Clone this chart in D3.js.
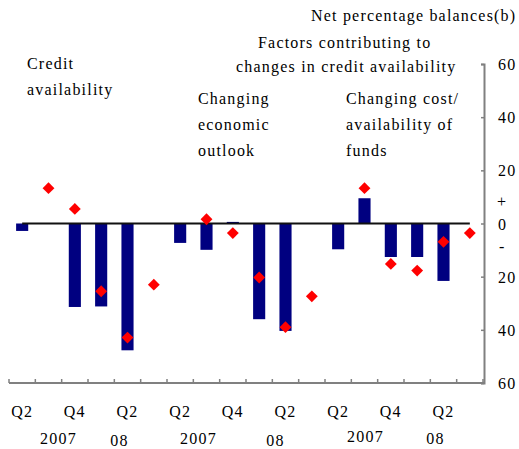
<!DOCTYPE html>
<html>
<head>
<meta charset="utf-8">
<script src="https://cdn.jsdelivr.net/npm/d3@7"></script>
<style>
  html, body { margin: 0; padding: 0; background: #fff; }
</style>
</head>
<body>
<div id="app"></div>
<script>
// quarters in each panel: Q2 2007 .. Q3 2008
const quarters = ['Q2 07', 'Q3 07', 'Q4 07', 'Q1 08', 'Q2 08', 'Q3 08']
const panels = ['Credit availability', 'Changing economic outlook', 'Changing cost/availability of funds']
// bars: past three months, diamonds: expected next three months
const creditBars = [-2.8, null, -31.4, -31.2, -47.7, null]
const creditExpected = [null, 13.3, 5.5, -25.5, -42.9, -23]
const outlookBars = [-7.3, -9.9, 0.6, -36, -40.4, null]
const outlookExpected = [null, 1.6, -3.6, -20.3, -39, -27.4]
const fundsBars = [-9.7, 9.5, -12.6, -12.6, -21.6, null]
const fundsExpected = [null, 13.3, -15.2, -17.7, -6.9, -3.6]
const yTicks = [-60, -40, -20, 0, 20, 40, 60]
const quarterLabels = ['Q2', '', 'Q4', '', 'Q2', '']
const yearLabels = ['2007', '08']

const width = 519
const height = 449
const plot = { left: 9, right: 483, top: 64, bottom: 383 }

const svg = d3.select('#app')
  .append('svg')
  .attr('width', width)
  .attr('height', height)
  .style('font-family', '"Liberation Serif", "Times New Roman", serif')
  .style('font-size', '16px')
  .style('letter-spacing', '1.2px')

const barSets = [creditBars, outlookBars, fundsBars]
const expSets = [creditExpected, outlookExpected, fundsExpected]
const rows = []
panels.forEach((p, pi) => {
  quarters.forEach((q, qi) => {
    rows.push({ key: pi + '|' + q, panel: pi, qi, bar: barSets[pi][qi], exp: expSets[pi][qi] })
  })
})

const xScale = d3.scaleBand()
  .domain(rows.map(d => d.key))
  .range([plot.left, plot.right])
const yScale = d3.scaleLinear()
  .domain([-60, 60])
  .range([plot.bottom, plot.top])
const barW = xScale.bandwidth() * 0.46
const cx = key => xScale(key) + xScale.bandwidth() / 2

// bars
svg.append('g')
  .selectAll('rect')
  .data(rows.filter(d => d.bar !== null))
  .enter()
  .append('rect')
  .attr('x', d => cx(d.key) - barW / 2)
  .attr('width', barW)
  .attr('y', d => yScale(Math.max(0, d.bar)))
  .attr('height', d => Math.abs(yScale(d.bar) - yScale(0)))
  .attr('fill', '#000080')

// zero line, from first to last category centre
svg.append('line')
  .attr('x1', cx(rows[0].key))
  .attr('x2', cx(rows[rows.length - 1].key))
  .attr('y1', yScale(0))
  .attr('y2', yScale(0))
  .attr('stroke', '#111')
  .attr('stroke-width', 2)

// diamonds
svg.append('g')
  .selectAll('path')
  .data(rows.filter(d => d.exp !== null))
  .enter()
  .append('path')
  .attr('d', d3.symbol(d3.symbolSquare, 70))
  .attr('transform', d => `translate(${cx(d.key)},${yScale(d.exp)}) rotate(45)`)
  .attr('fill', '#ff0000')

// x axis: ticks between categories
const xAxisG = svg.append('g')
xAxisG.append('line')
  .attr('x1', plot.left).attr('x2', plot.right + 1)
  .attr('y1', plot.bottom).attr('y2', plot.bottom)
  .attr('stroke', '#808080').attr('stroke-width', 2)
const bounds = rows.map(d => xScale(d.key)).concat([plot.right])
xAxisG.selectAll('.tk')
  .data(bounds)
  .enter()
  .append('line')
  .attr('x1', d => d).attr('x2', d => d)
  .attr('y1', plot.bottom).attr('y2', plot.bottom - 4)
  .attr('stroke', '#808080').attr('stroke-width', 1.5)
xAxisG.selectAll('.ql')
  .data(rows.filter(d => quarterLabels[d.qi]))
  .enter()
  .append('text')
  .attr('x', d => cx(d.key))
  .attr('y', 417)
  .attr('text-anchor', 'middle')
  .text(d => quarterLabels[d.qi])
// year labels, nudged like the original
const yearNudge = [[10, -8], [-8, -10], [1, -8]]
panels.forEach((p, pi) => {
  const k1 = pi + '|' + quarters[1]
  const k4 = pi + '|' + quarters[4]
  xAxisG.append('text')
    .attr('x', cx(k1) + yearNudge[pi][0])
    .attr('y', pi === 2 ? 442 : 444)
    .attr('text-anchor', 'middle')
    .text(yearLabels[0])
  xAxisG.append('text')
    .attr('x', cx(k4) + yearNudge[pi][1])
    .attr('y', pi === 2 ? 444 : 446)
    .attr('text-anchor', 'middle')
    .text(yearLabels[1])
})

// y axis on the right
const yAxis = d3.axisLeft(yScale)
  .tickValues(yTicks)
  .tickSize(3)
  .tickFormat('')
const yAxisG = svg.append('g')
  .attr('transform', `translate(${plot.right + 1},0)`)
  .call(yAxis)
yAxisG.select('.domain').attr('stroke', '#808080').attr('stroke-width', 2)
yAxisG.selectAll('.tick line').attr('stroke', '#808080').attr('stroke-width', 1.5)
svg.append('g')
  .selectAll('text')
  .data(yTicks)
  .enter()
  .append('text')
  .attr('x', 498)
  .attr('y', d => yScale(d) + 6)
  .text(d => Math.abs(d))
svg.append('text').attr('x', 497).attr('y', yScale(8) + 5).text('+')
svg.append('text').attr('x', 499).attr('y', yScale(-9) + 5).text('-')

// titles
svg.append('text').attr('x', 311).attr('y', 21).text('Net percentage balances(b)')
svg.append('text').attr('x', 258).attr('y', 48).text('Factors contributing to')
svg.append('text').attr('x', 236).attr('y', 72).text('changes in credit availability')

const panelText = [
  { x: 27, y: 69, lines: ['Credit', 'availability'] },
  { x: 198, y: 104, lines: ['Changing', 'economic', 'outlook'] },
  { x: 346, y: 104, lines: ['Changing cost/', 'availability of', 'funds'] },
]
panelText.forEach(t => {
  svg.append('g')
    .selectAll('text')
    .data(t.lines)
    .enter()
    .append('text')
    .attr('x', t.x)
    .attr('y', (d, i) => t.y + i * 26)
    .text(d => d)
})
</script>
</body>
</html>
